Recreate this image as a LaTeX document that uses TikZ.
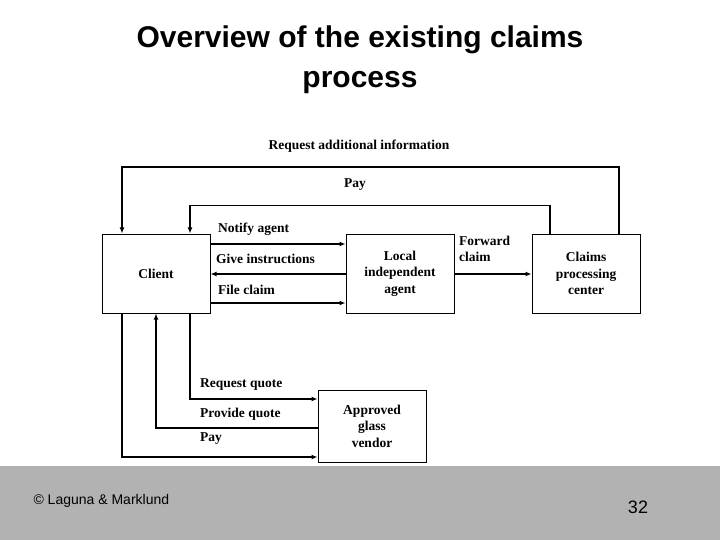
\documentclass[tikz,border=0pt]{standalone}
\usepackage{fontspec}
\setmainfont{Liberation Serif}
\newfontfamily\sans{Liberation Sans}
\usetikzlibrary{arrows.meta}
\begin{document}
\begin{tikzpicture}[x=1pt,y=-1pt,
  box/.style={draw,line width=1pt,minimum width=108pt,minimum height=79pt,inner sep=0pt,align=center,font=\fontsize{13.5}{16.5}\selectfont\bfseries},
  lbl/.style={font=\fontsize{13.5}{16.5}\selectfont\bfseries,inner sep=0pt,anchor=west},
  conn/.style={line width=1.5pt,-{Latex[length=6pt,width=5pt]}}]
\useasboundingbox (0,0) rectangle (720,540);
\fill[gray!60] (0,466) rectangle (720,540);
\node[font=\sans\bfseries\fontsize{30}{40}\selectfont,align=center] (title) at (360,60) {Overview of the existing claims\\process};
\node[font=\sans\fontsize{14}{16}\selectfont,anchor=west] (copy) at (30,501) {© Laguna \& Marklund};
\node[font=\sans\fontsize{18}{20}\selectfont] (num) at (638,507) {32};

\node[box] (client) at (156,273.5) {Client};
\node[box] (agent) at (400,273.5) {Local\\independent\\agent};
\node[box] (center) at (586,273.5) {Claims\\processing\\center};
\node[box,minimum height=72pt] (vendor) at (372,426) {Approved\\glass\\vendor};

\coordinate (t1) at (619,167); \coordinate (t2) at (122,167);
\draw[conn] (center.north -| t1) -- (t1) -- (t2) -- (client.north -| t2);
\coordinate (s1) at (550,205.7); \coordinate (s2) at (190,205.7);
\draw[conn] (center.north -| s1) -- (s1) -- (s2) -- (client.north -| s2);
\node[lbl,anchor=center] (l1) at (359,146) {Request additional information};
\node[lbl,anchor=center] (l2) at (355,185) {Pay};

\coordinate (n) at (0,244); \coordinate (g) at (0,274); \coordinate (f) at (0,303);
\draw[conn] (client.east |- n) -- (agent.west |- n);
\draw[conn] (agent.west |- g) -- (client.east |- g);
\draw[conn] (client.east |- f) -- (agent.west |- f);
\draw[conn] (agent.east |- g) -- (center.west |- g);
\node[lbl] (l3) at (218,229) {Notify agent};
\node[lbl] (l4) at (216,259) {Give instructions};
\node[lbl] (l5) at (218,290) {File claim};
\node[lbl,align=left] (l6) at (459,249) {Forward\\claim};

\coordinate (r) at (190,399); \coordinate (p) at (156,428); \coordinate (q) at (122,457);
\draw[conn] (client.south -| r) -- (r) -- (vendor.west |- r);
\draw[conn] (vendor.west |- p) -- (p) -- (client.south -| p);
\draw[conn] (client.south -| q) -- (q) -- (vendor.west |- q);
\node[lbl] (l7) at (200,385) {Request quote};
\node[lbl] (l8) at (200,414) {Provide quote};
\node[lbl] (l9) at (200,439) {Pay};
\end{tikzpicture}
\end{document}
